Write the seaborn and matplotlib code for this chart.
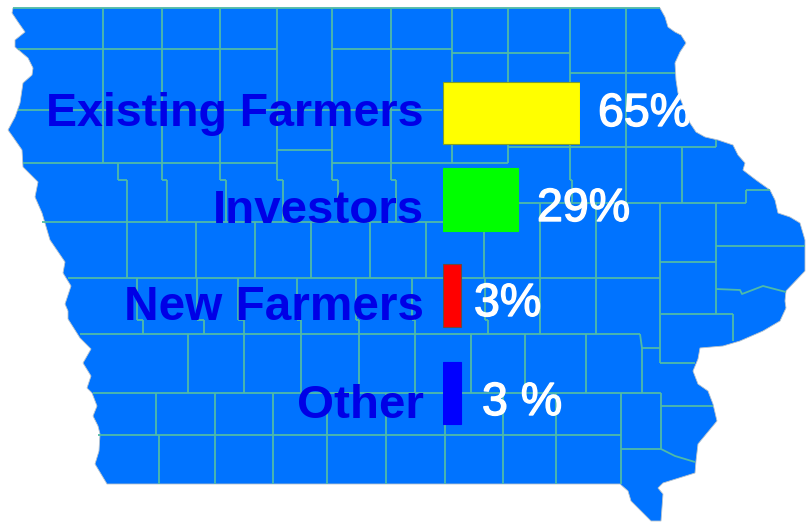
import matplotlib
matplotlib.use("Agg")
import matplotlib.pyplot as plt
import matplotlib.patheffects as pe
from matplotlib.collections import LineCollection
from matplotlib.patches import Polygon
import seaborn as sns

categories = ["Existing Farmers", "Investors", "New Farmers", "Other"]
share_labels = ["65%", "29%", "3%", "3 %"]
# drawn bar lengths, in units where the 65% bar is 65 long (the others are not to scale in the picture)
bar_lengths = [65, 35.6, 9, 8.8]
bar_colors = ["#ffff00", "#00ff00", "#ff0000", "#0000ff"]
bar_edges = ["#7f9f2a", "#00ff00", "#6b4a40", "#0000ff"]

# row centres, label baselines and label starts, all in image pixels
bar_centres = [113, 199.5, 295.5, 393]
name_baselines = [126, 223, 320, 418]
name_sizes = [33.5, 34.2, 34.4, 34.2]
share_baselines = [126, 221, 316, 415]
share_starts = [598, 537, 474, 482]

# state outline in image pixels
state_outline = [
    (13, 8), (660, 8), (665, 17), (668, 27), (675, 32), (681, 35), (686, 43), (680, 52),
    (675, 63), (676, 80), (678, 93), (690, 123), (696, 132), (705, 137), (718, 140),
    (733, 145), (738, 155), (745, 163), (743, 170), (756, 180), (770, 190), (775, 200),
    (778, 213), (790, 217), (800, 223), (805, 240), (805, 253), (805, 271), (786, 291),
    (785, 301), (786, 308), (780, 321), (763, 331), (740, 341), (723, 346), (700, 348),
    (698, 359), (693, 371), (698, 384), (708, 391), (713, 404), (717, 421), (698, 444),
    (696, 461), (695, 473), (663, 483), (658, 488), (663, 494), (661, 521), (651, 521),
    (631, 501), (628, 491), (620, 484), (107, 484), (95, 464), (99, 451), (100, 434),
    (98, 426), (93, 416), (97, 406), (92, 393), (87, 388), (91, 376), (83, 363), (91, 349),
    (80, 338), (68, 319), (68, 311), (65, 304), (71, 286), (63, 273), (65, 262), (50, 240),
    (42, 213), (35, 197), (38, 182), (23, 167), (22, 150), (13, 137), (8, 130), (15, 117),
    (20, 103), (23, 83), (32, 75), (33, 68), (28, 58), (15, 47), (15, 40), (25, 32),
    (18, 22), (12, 13),
]

# county lines: (x, y0, y1) verticals and (y, x0, x1) horizontals
county_verticals = [
    (103, 8, 163), (162, 8, 180), (220, 8, 180), (277, 8, 180), (332, 8, 180), (391, 8, 180),
    (452, 8, 163), (508, 8, 163), (570, 8, 180), (626, 8, 203), (682, 147, 203), (716, 140, 147),
    (118, 163, 180), (127, 180, 278), (167, 180, 222), (226, 180, 222), (283, 180, 222),
    (338, 180, 222), (396, 180, 222), (572, 180, 203), (196, 222, 278), (255, 222, 278),
    (311, 222, 278), (370, 222, 278), (426, 222, 278), (484, 222, 278), (540, 203, 278),
    (596, 203, 278), (660, 203, 363), (716, 203, 314), (746, 190, 203),
    (137, 278, 320), (143, 320, 334), (197, 278, 320), (204, 320, 334), (238, 278, 320),
    (244, 320, 393), (297, 278, 320), (301, 320, 393), (356, 278, 320), (359, 320, 393),
    (412, 278, 320), (415, 320, 393), (485, 278, 320), (488, 320, 334), (540, 278, 334),
    (596, 278, 334), (733, 314, 341), (188, 334, 393), (471, 334, 393), (525, 334, 393),
    (586, 334, 393), (642, 348, 393), (621, 393, 484), (661, 393, 449),
    (156, 393, 435), (215, 393, 484), (273, 393, 484), (327, 393, 484), (386, 393, 484),
    (445, 393, 484), (503, 393, 484), (556, 393, 484), (159, 435, 484),
]
county_horizontals = [
    (8, 13, 660), (49, 18, 277), (49, 332, 452), (53, 452, 570), (73, 570, 675), (110, 18, 442),
    (150, 277, 332), (163, 23, 277), (163, 332, 508), (147, 508, 716), (203, 518, 746),
    (190, 746, 770), (222, 42, 443), (246, 716, 805), (262, 660, 716), (278, 68, 660),
    (334, 80, 640), (348, 642, 660), (314, 661, 733), (363, 660, 695), (393, 93, 661),
    (406, 661, 713), (435, 98, 621), (449, 621, 661),
    (180, 118, 127), (180, 162, 167), (180, 220, 226), (180, 277, 283), (180, 332, 338),
    (180, 391, 396), (180, 570, 572), (320, 137, 143), (320, 197, 204), (320, 238, 244),
    (320, 297, 301), (320, 356, 359), (320, 412, 415), (320, 485, 488),
]
county_bends = [
    [(640, 334), (642, 348)],
    [(716, 289), (740, 290), (742, 294), (763, 286), (786, 292)],
    [(661, 449), (675, 456), (695, 462)],
]

sns.set_theme(style="white")
plt.rcParams["font.family"] = ["Liberation Sans", "DejaVu Sans"]

fig = plt.figure(figsize=(8.06, 5.23), dpi=100, facecolor="white")

# map layer, one data unit is one image pixel
map_ax = fig.add_axes([0, 0, 1, 1])
map_ax.set_xlim(0, 806)
map_ax.set_ylim(523, 0)
map_ax.axis("off")
map_ax.add_patch(Polygon(state_outline, closed=True, facecolor="#0073ff", edgecolor="#b9c4cc", linewidth=0.6))

segments = [[(x, y0), (x, y1)] for x, y0, y1 in county_verticals]
segments += [[(x0, y), (x1, y)] for y, x0, x1 in county_horizontals]
segments += county_bends
map_ax.add_collection(LineCollection(segments, colors="#4fbba8", linewidths=1.3))

# bar layer starts at the common bar base and shares the pixel rows of the map
bar_ax = fig.add_axes([442.5 / 806, 0, 137 / 806, 1])
sns.barplot(x=bar_lengths, y=bar_centres, hue=categories, palette=bar_colors, orient="h",
            native_scale=True, dodge=False, width=0.7225, legend=False, saturation=1, ax=bar_ax)
bar_ax.set_xlim(0, 65)
bar_ax.set_ylim(523, 0)
bar_ax.axis("off")
bar_ax.patch.set_alpha(0)
for container, edge in zip(bar_ax.containers, bar_edges):
    for bar in container:
        bar.set_edgecolor(edge)
        bar.set_linewidth(0.8)

for name, y, size in zip(categories, name_baselines, name_sizes):
    map_ax.text(424, y, name, ha="right", va="baseline", fontsize=size, fontweight="bold",
                color="#0000e6", zorder=5)

bar_ax.set_zorder(map_ax.get_zorder() + 1)

for label, x, y in zip(share_labels, share_starts, share_baselines):
    bar_ax.annotate(label, xy=(x / 806, 1 - y / 523), xycoords="figure fraction", ha="left", va="baseline",
                    fontsize=33.5, color="white",
                    path_effects=[pe.withStroke(linewidth=1.0, foreground="white")], annotation_clip=False)

fig.savefig("out.png", dpi=100)
